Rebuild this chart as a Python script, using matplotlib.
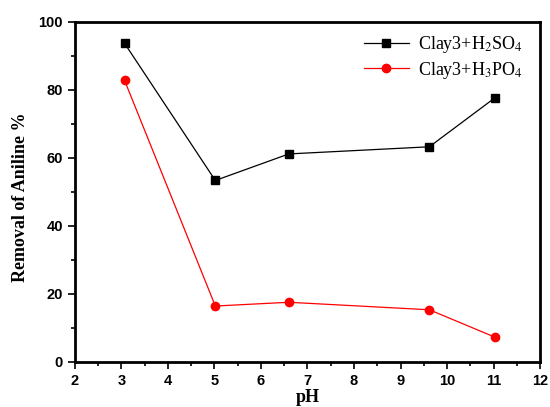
import matplotlib
matplotlib.use('Agg')
import matplotlib.pyplot as plt
from matplotlib.ticker import MultipleLocator

ph = [3.07, 5.02, 6.6, 9.62, 11.02]
h2so4 = [93.6, 53.3, 61.1, 63.2, 77.5]
h3po4 = [82.7, 16.4, 17.5, 15.3, 7.3]
xticks = [2, 3, 4, 5, 6, 7, 8, 9, 10, 11, 12]
yticks = [0, 20, 40, 60, 80, 100]

plt.rcParams['mathtext.fontset'] = 'stix'

fig = plt.figure(figsize=(5.5, 4.07), dpi=100)
ax = fig.add_axes([0.136, 0.111, 0.846, 0.836])

ax.plot(ph, h2so4, color='black', lw=0.9, marker='s', ms=5.5, label=r'Clay3+H$_2$SO$_4$')
ax.plot(ph, h3po4, color='red', lw=0.9, marker='o', ms=6, label=r'Clay3+H$_3$PO$_4$')

ax.set_xlim(2, 12)
ax.set_ylim(0, 100)
ax.set_xticks(xticks)
ax.set_yticks(yticks)
ax.xaxis.set_minor_locator(MultipleLocator(0.5))
ax.yaxis.set_minor_locator(MultipleLocator(10))
ax.tick_params(which='both', direction='out', top=False, right=False, width=1.2)
ax.tick_params(which='major', length=5)
ax.tick_params(which='minor', length=3)
for s in ax.spines.values():
    s.set_linewidth(2)

for lab in ax.get_xticklabels() + ax.get_yticklabels():
    lab.set_fontfamily('Liberation Sans')
    lab.set_fontweight('bold')
    lab.set_fontsize(10.5)

ax.set_xlabel('pH', fontfamily='Liberation Serif', fontweight='bold', fontsize=13, labelpad=1)
ax.set_ylabel('Removal of Aniline %', fontfamily='Liberation Serif', fontweight='bold', fontsize=13)
ax.yaxis.set_label_coords(-0.098, 0.485)

ax.legend(loc='upper right', bbox_to_anchor=(0.99, 1.0), frameon=False,
          prop={'family': 'Liberation Serif', 'size': 13},
          handlelength=2.5, borderaxespad=0.3, labelspacing=0.25, handletextpad=0.5)

fig.savefig('out.png', dpi=100)
